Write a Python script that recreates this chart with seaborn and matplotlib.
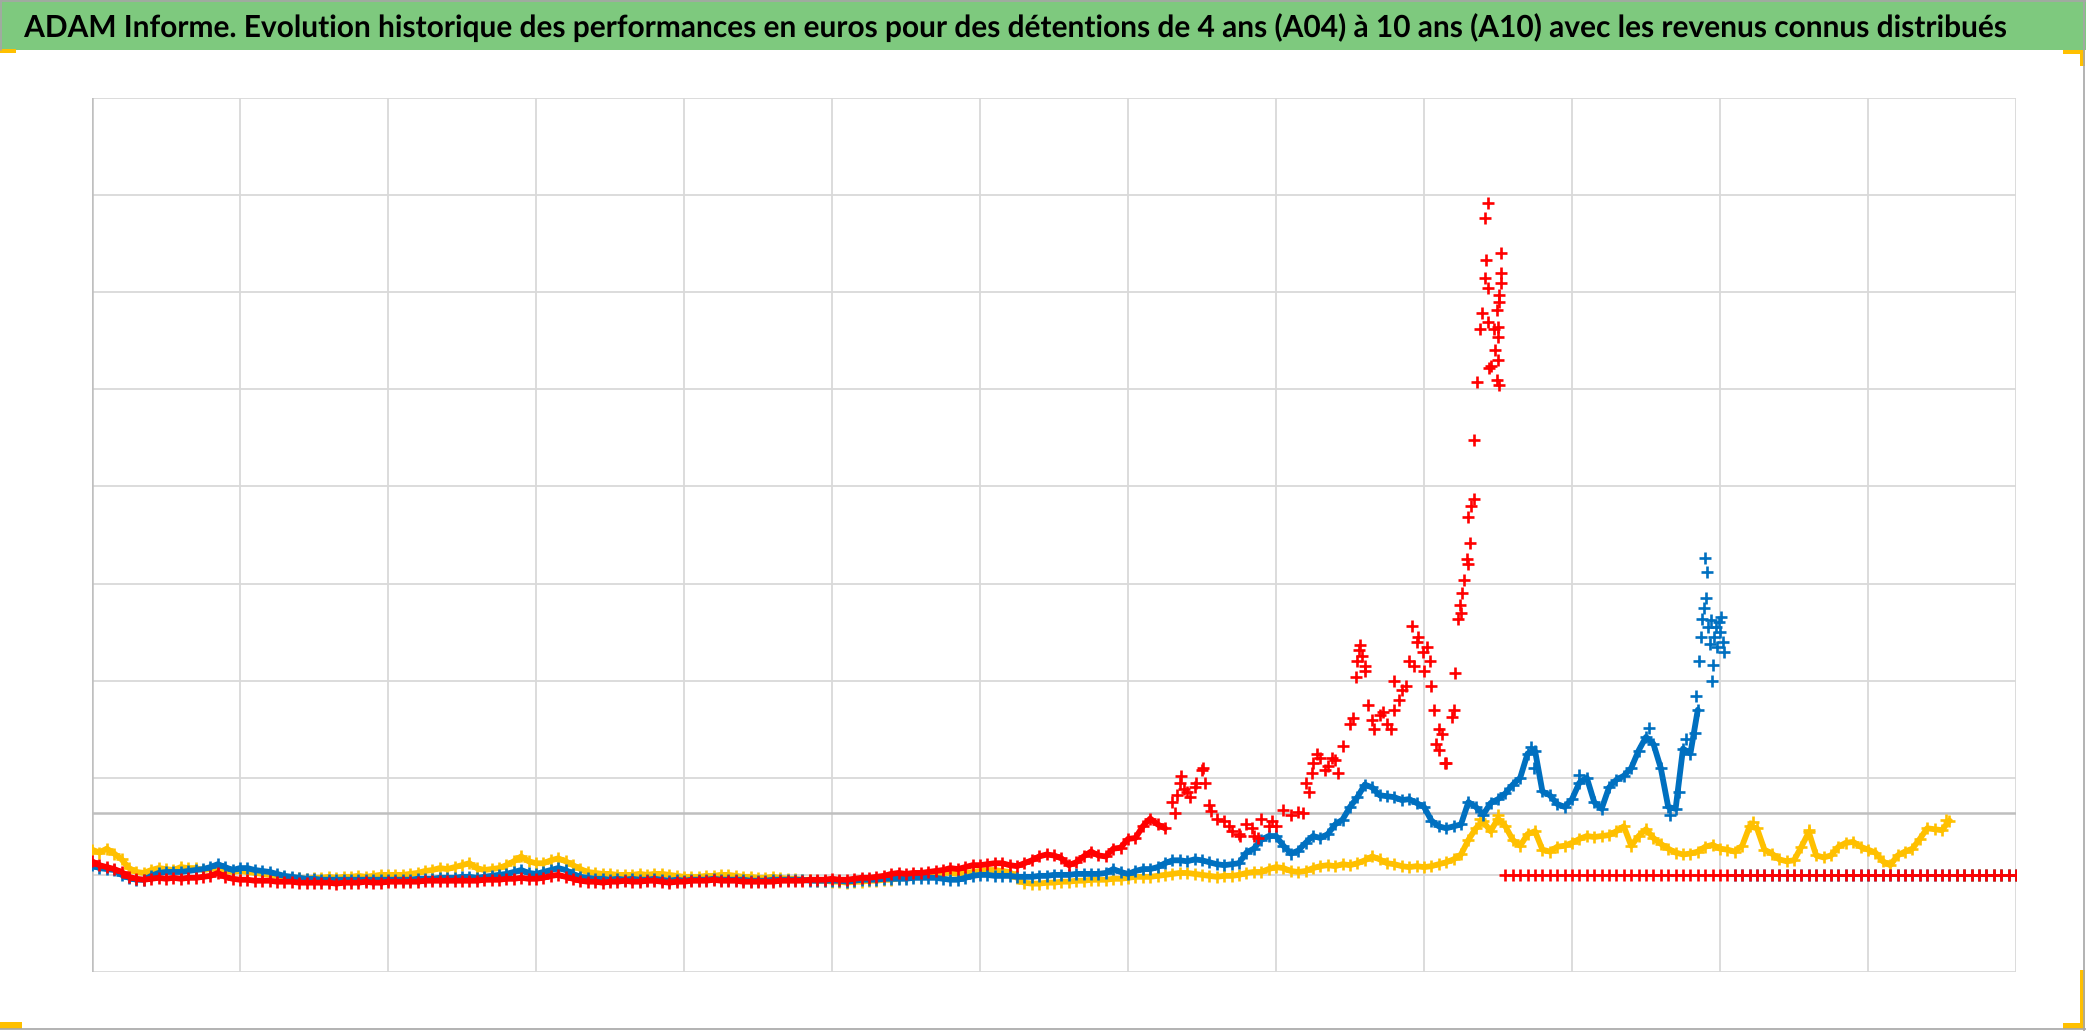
import numpy as np
import pandas as pd
import seaborn as sns
import matplotlib.pyplot as plt
from matplotlib.patches import Rectangle, PathPatch
from matplotlib.lines import Line2D
from matplotlib.textpath import TextPath
from matplotlib.font_manager import FontProperties
from matplotlib.transforms import Affine2D, IdentityTransform

W, H = 2086, 1031
title = ("ADAM Informe. Evolution historique des performances en euros pour des "
         "détentions de 4 ans (A04) à 10 ans (A10) avec les revenus connus distribués")

# x = one vertical grid column per unit, one value every 0.05 column
step = 0.05

# A04 (yellow)
a04 = [0.26, 0.23, 0.27, 0.22, 0.16, 0.07, 0.03, 0.02, 0.05, 0.07, 0.06, 0.05, 0.08, 0.07, 0.07, 0.05, 0.06, 0.07, 0.04, 0.03,
       0.04, 0.03, 0.02, 0.01, 0.00, -0.01, -0.02, -0.03, -0.03, -0.04, -0.03, -0.03, -0.02, -0.03, -0.02, -0.02, -0.01, -0.02, -0.01, 0.00,
       0.00, 0.00, 0.00, 0.01, 0.02, 0.04, 0.05, 0.07, 0.06, 0.08, 0.10, 0.12, 0.07, 0.05, 0.06, 0.07, 0.10, 0.14, 0.19, 0.14,
       0.12, 0.12, 0.15, 0.17, 0.14, 0.10, 0.06, 0.03, 0.02, 0.01, 0.01, 0.00, 0.00, 0.00, 0.01, 0.00, 0.01, 0.01, 0.00, -0.01,
       -0.02, -0.02, -0.02, -0.01, -0.01, 0.00, 0.00, -0.01, -0.02, -0.02, -0.03, -0.03, -0.02, -0.03, -0.04, -0.04, -0.05, -0.05, -0.06, -0.06,
       -0.07, -0.07, -0.08, -0.07, -0.07, -0.06, -0.06, -0.05, -0.05, -0.03, -0.02, -0.01, 0.00, 0.01, 0.01, 0.02, 0.02, 0.01, 0.02, 0.03,
       0.04, 0.05, 0.05, 0.04, 0.03, -0.03, -0.08, -0.09, -0.09, -0.08, -0.08, -0.07, -0.07, -0.06, -0.06, -0.05, -0.05, -0.05, -0.04, -0.04,
       -0.03, -0.02, -0.02, -0.02, -0.01, 0.00, 0.01, 0.02, 0.02, 0.01, 0.00, -0.01, -0.02, -0.01, -0.01, 0.00, 0.02, 0.03, 0.03, 0.06,
       0.08, 0.07, 0.04, 0.03, 0.04, 0.07, 0.09, 0.10, 0.09, 0.11, 0.10, 0.12, 0.15, 0.19, 0.16, 0.12, 0.11, 0.09, 0.08, 0.09,
       0.08, 0.09, 0.11, 0.13, 0.16, 0.21, 0.36, 0.48, 0.55, 0.45, 0.58, 0.50, 0.36, 0.30, 0.42, 0.45, 0.26, 0.24, 0.29, 0.30,
       0.33, 0.37, 0.40, 0.39, 0.40, 0.41, 0.45, 0.50, 0.30, 0.40, 0.47, 0.38, 0.32, 0.27, 0.23, 0.21, 0.22, 0.24, 0.29, 0.31,
       0.27, 0.26, 0.24, 0.30, 0.50, 0.48, 0.26, 0.22, 0.16, 0.14, 0.15, 0.29, 0.44, 0.20, 0.18, 0.20, 0.29, 0.33, 0.34, 0.29,
       0.26, 0.23, 0.14, 0.10, 0.20, 0.24, 0.27, 0.37, 0.48, 0.47, 0.46, 0.56]
a04_extra_x = [9.38, 9.50, 11.22, 11.60, 12.53]
a04_extra_y = [0.58, 0.62, 0.54, 0.46, 0.57]
a04_tail_start = 12.6
a04_tail = [0.0] * 9

# A07 (blue)
a07 = [0.10, 0.07, 0.06, 0.05, 0.00, -0.03, -0.05, -0.05, -0.01, 0.02, 0.03, 0.03, 0.03, 0.04, 0.05, 0.06, 0.08, 0.11, 0.08, 0.05,
       0.07, 0.07, 0.05, 0.04, 0.03, 0.01, -0.01, -0.02, -0.03, -0.04, -0.04, -0.05, -0.05, -0.05, -0.05, -0.05, -0.05, -0.05, -0.05, -0.05,
       -0.05, -0.05, -0.05, -0.05, -0.04, -0.04, -0.04, -0.03, -0.03, -0.03, -0.02, -0.02, -0.03, -0.02, -0.01, 0.00, 0.01, 0.03, 0.05, 0.02,
       0.01, 0.03, 0.05, 0.07, 0.05, 0.01, -0.02, -0.03, -0.04, -0.04, -0.05, -0.04, -0.05, -0.04, -0.05, -0.05, -0.04, -0.05, -0.06, -0.05,
       -0.06, -0.05, -0.05, -0.05, -0.04, -0.05, -0.05, -0.05, -0.05, -0.06, -0.06, -0.06, -0.05, -0.05, -0.05, -0.05, -0.05, -0.06, -0.06, -0.06,
       -0.06, -0.06, -0.07, -0.06, -0.05, -0.05, -0.05, -0.04, -0.04, -0.04, -0.04, -0.03, -0.03, -0.03, -0.03, -0.04, -0.05, -0.05, -0.03, -0.01,
       0.00, 0.00, -0.01, -0.01, -0.01, -0.02, -0.02, -0.02, -0.01, -0.01, 0.00, 0.00, 0.00, 0.01, 0.01, 0.01, 0.01, 0.02, 0.06, 0.03,
       0.01, 0.04, 0.06, 0.06, 0.08, 0.12, 0.15, 0.15, 0.14, 0.16, 0.15, 0.13, 0.11, 0.10, 0.11, 0.12, 0.23, 0.27, 0.36, 0.40,
       0.40, 0.30, 0.22, 0.25, 0.33, 0.40, 0.38, 0.42, 0.52, 0.57, 0.70, 0.80, 0.93, 0.90, 0.82, 0.81, 0.80, 0.77, 0.78, 0.74,
       0.70, 0.56, 0.50, 0.48, 0.50, 0.52, 0.75, 0.70, 0.62, 0.74, 0.78, 0.84, 0.93, 1.00, 1.25, 1.28, 0.86, 0.82, 0.73, 0.70,
       0.78, 0.95, 1.00, 0.75, 0.68, 0.90, 0.98, 1.02, 1.10, 1.28, 1.42, 1.35, 1.10, 0.70, 0.68, 1.30, 1.25, 1.70]
a07_extra_x = [9.72, 9.74, 10.05, 10.52, 10.66, 10.72, 10.77, 10.83, 10.84, 10.86, 10.87, 10.88, 10.89, 10.90, 10.905,
               10.91, 10.92, 10.93, 10.94, 10.945, 10.95, 10.96, 10.97, 10.98, 10.99, 11.00, 11.01, 11.02, 11.03]
a07_extra_y = [1.32, 1.10, 1.03, 1.51, 0.62, 0.85, 1.40, 1.46, 1.84, 2.20, 2.45, 2.63, 2.75, 3.26, 2.85,
               3.12, 2.55, 2.38, 2.62, 2.00, 2.16, 2.45, 2.55, 2.35, 2.60, 2.50, 2.66, 2.40, 2.30]
a07_tail_start = 11.1
a07_tail = [0.0] * 39

# A10 (red)
a10 = [0.14, 0.10, 0.08, 0.06, 0.03, -0.02, -0.04, -0.05, -0.04, -0.03, -0.04, -0.03, -0.04, -0.03, -0.03, -0.02, -0.01, 0.02, -0.02, -0.04,
       -0.05, -0.05, -0.06, -0.06, -0.06, -0.07, -0.07, -0.07, -0.08, -0.08, -0.08, -0.08, -0.08, -0.09, -0.08, -0.08, -0.08, -0.07, -0.08, -0.08,
       -0.07, -0.07, -0.07, -0.07, -0.07, -0.06, -0.06, -0.06, -0.06, -0.06, -0.06, -0.06, -0.06, -0.05, -0.05, -0.05, -0.04, -0.04, -0.03, -0.04,
       -0.04, -0.03, -0.01, 0.00, -0.02, -0.04, -0.06, -0.07, -0.07, -0.08, -0.07, -0.07, -0.06, -0.07, -0.07, -0.06, -0.06, -0.07, -0.08, -0.07,
       -0.07, -0.06, -0.06, -0.06, -0.05, -0.06, -0.06, -0.06, -0.07, -0.07, -0.07, -0.07, -0.07, -0.06, -0.06, -0.06, -0.06, -0.05, -0.05, -0.05,
       -0.04, -0.05, -0.05, -0.04, -0.03, -0.03, -0.02, -0.01, 0.01, 0.02, 0.01, 0.02, 0.02, 0.03, 0.04, 0.05, 0.07, 0.06, 0.08, 0.10,
       0.10, 0.11, 0.12, 0.12, 0.10, 0.09, 0.12, 0.15, 0.19, 0.21, 0.20, 0.17, 0.10, 0.13, 0.19, 0.24, 0.20, 0.19, 0.27, 0.28,
       0.37, 0.38, 0.50, 0.58, 0.52, 0.48, 0.75, 0.95, 0.85, 0.90, 1.08, 0.72, 0.58, 0.55, 0.45, 0.42, 0.52, 0.40, 0.58, 0.50,
       0.50, 0.67, 0.62, 0.65, 0.95, 1.15, 1.20, 1.12, 1.18, 1.33, 1.55, 2.20, 2.10, 1.60, 1.65, 1.55, 1.70, 1.90, 2.20, 2.40,
       2.10, 1.95, 1.50, 1.15, 1.70, 2.70, 3.20]
a10_extra_x = [7.32, 7.33, 7.36, 7.38, 7.42, 7.46, 7.51, 7.52, 7.56, 7.68, 7.76, 7.84, 7.88, 7.97, 8.18, 8.22, 8.24, 8.28,
               8.33, 8.38, 8.42, 8.52, 8.54, 8.56, 8.57, 8.58, 8.60, 8.62, 8.66, 8.72, 8.78, 8.80, 8.83, 8.88, 8.92, 8.93,
               8.96, 8.99, 9.02, 9.04, 9.07, 9.08, 9.10, 9.12, 9.14, 9.19, 9.21, 9.23, 9.24, 9.26, 9.27, 9.29, 9.31, 9.30,
               9.32, 9.34, 9.34, 9.36, 9.38, 9.39, 9.41, 9.41, 9.42, 9.43, 9.43, 9.43, 9.44, 9.45, 9.47, 9.48, 9.50, 9.50,
               9.50, 9.51, 9.51, 9.49, 9.52, 9.52, 9.52, 9.51, 9.49]
a10_extra_y = [0.64, 0.82, 1.02, 0.88, 0.80, 0.95, 1.10, 0.95, 0.66, 0.50, 0.40, 0.48, 0.38, 0.55, 0.64, 0.85, 1.05, 1.25,
               1.08, 1.20, 1.05, 1.62, 2.04, 2.32, 2.37, 2.25, 2.15, 1.75, 1.50, 1.68, 1.50, 2.00, 1.80, 1.95, 2.56, 2.15,
               2.45, 2.30, 2.35, 2.20, 1.70, 1.35, 1.29, 1.45, 1.15, 1.63, 2.08, 2.63, 2.78, 2.90, 3.04, 3.25, 3.42, 3.69,
               3.80, 3.87, 4.48, 5.08, 5.62, 5.79, 6.15, 6.76, 6.33, 6.92, 5.69, 6.04, 5.22, 5.24, 5.62, 5.40, 5.30, 5.54,
               5.64, 5.97, 5.90, 5.82, 6.40, 6.20, 6.10, 5.04, 5.10]
a10_tail_start = 9.55
a10_tail = [0.0] * 70

names = ["A04", "A07", "A10"]
colors = ["#FFC000", "#0070C0", "#FF0000"]
# how many base values form a dense band (drawn joined underneath the markers)
dense_count = [len(a04), len(a07), 146]


def build(name, vals, ex_x, ex_y, tail_start, tail):
    x = list(np.arange(len(vals)) * step) + ex_x + list(tail_start + np.arange(len(tail)) * step)
    y = list(vals) + ex_y + list(tail)
    return pd.DataFrame({"x": x, "perf": y, "serie": name})


frames = [
    build("A04", a04, a04_extra_x, a04_extra_y, a04_tail_start, a04_tail),
    build("A07", a07, a07_extra_x, a07_extra_y, a07_tail_start, a07_tail),
    build("A10", a10, a10_extra_x, a10_extra_y, a10_tail_start, a10_tail),
]

sns.set_style("white")
fig = plt.figure(figsize=(W / 100, H / 100), dpi=100)
ax = fig.add_axes([92 / W, (H - 972) / H, (2016 - 92) / W, (972 - 98) / H])

for k, (d, col) in enumerate(zip(frames, colors)):
    band = d.iloc[:dense_count[k]]
    sns.lineplot(x=band["x"], y=band["perf"], color=col, lw=4.2, sort=False, estimator=None,
                 ax=ax, zorder=3 + 2 * k)
    sns.scatterplot(x=d["x"], y=d["perf"], color=col, marker="+", s=85, linewidth=1.9,
                    ax=ax, zorder=4 + 2 * k)

ax.set_xlim(0, 13)
ax.set_ylim(-1, 8)
ax.set_xticks(range(14))
ax.set_yticks(range(-1, 9))
ax.grid(True, color="#d9d9d9", lw=1.3)
ax.tick_params(length=0, labelbottom=False, labelleft=False)
ax.set_xlabel("")
ax.set_ylabel("")
for sp in ax.spines.values():
    sp.set_visible(False)
ax.axvline(0, color="#bfbfbf", lw=1.8, zorder=2)
ax.axhline(0.64, color="#bfbfbf", lw=1.8, zorder=2)

# title banner
fig.patches.append(Rectangle((0, 1 - 50 / H), 1, 50 / H, transform=fig.transFigure,
                             facecolor="#7ec97e", edgecolor="none", zorder=0))
fp = FontProperties(family=["Lato", "DejaVu Sans"], weight="bold")
tp = TextPath((0, 0), title, size=100, prop=fp)
cap = TextPath((0, 0), "ADAM", size=100, prop=fp).get_extents()
ext = tp.get_extents()
sx = 1982 / ext.width
sy = 22 / cap.y1
tr = Affine2D().translate(-ext.x0, 0).scale(sx, sy).translate(24, H - 37)
fig.add_artist(PathPatch(tr.transform_path(tp), facecolor="black", edgecolor="none",
                         transform=IdentityTransform(), zorder=3))

# frame and selection handles
gray = "#a6a6a6"
fig.lines.append(Line2D([0, 1], [1 - 0.6 / H, 1 - 0.6 / H], transform=fig.transFigure, color=gray, lw=1.2))
fig.lines.append(Line2D([2083.5 / W, 2083.5 / W], [0, 1], transform=fig.transFigure, color=gray, lw=1.2))
fig.lines.append(Line2D([0, 1], [2 / H, 2 / H], transform=fig.transFigure, color=gray, lw=1.2))
fig.lines.append(Line2D([0.6 / W, 0.6 / W], [1 - 50 / H, 1], transform=fig.transFigure, color=gray, lw=1.2))
handles = [(0, 49, 16, 4), (2063, 50, 22, 4), (2080, 50, 5, 16), (0, 1022, 22, 7),
           (2080, 970, 5, 59), (2063, 1023, 22, 6)]
for hx, hy, hw, hh in handles:
    fig.patches.append(Rectangle((hx / W, 1 - (hy + hh) / H), hw / W, hh / H,
                                 transform=fig.transFigure, facecolor="#FFC000", edgecolor="none"))

fig.savefig("out.png", dpi=100)
